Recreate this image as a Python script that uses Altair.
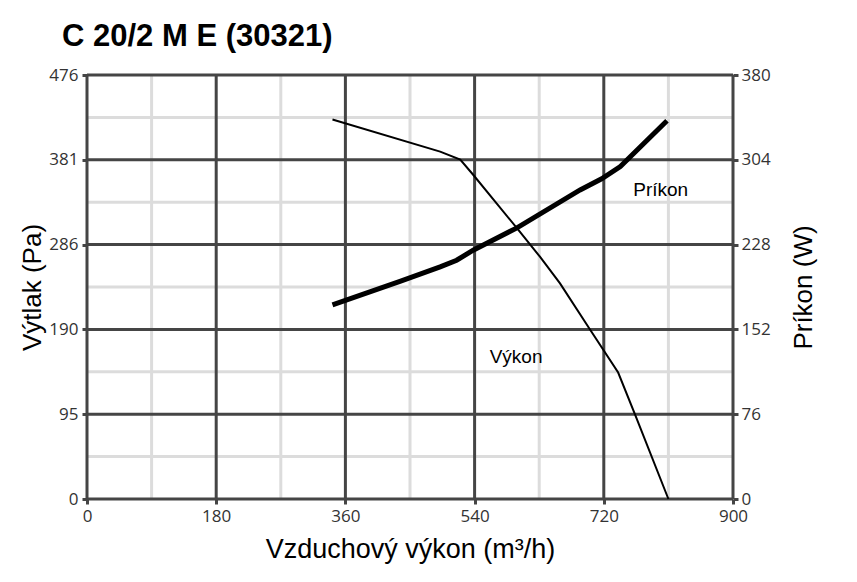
import altair as alt
import pandas as pd

# ---- data ----
vykon_x = [342, 492, 520, 538, 599, 631, 659, 701, 740, 764, 810]
vykon_pa = [426, 390, 381, 364, 304, 272, 242, 190, 142, 94, 0]

prikon_x = [342, 436, 492, 515, 538, 599, 687, 717, 743, 808]
prikon_w = [174, 195, 208, 214, 223, 243, 277, 287, 298, 339]

x_major = [0, 180, 360, 540, 720, 900]
x_minor = [90, 270, 450, 630, 810]
y_major = [0, 95.2, 190.4, 285.6, 380.8, 476]
y_minor = [47.6, 142.8, 238, 333.2, 428.4]
w_ticks = [0, 76, 152, 228, 304, 380]

label_text = ["Výkon", "Príkon"]
label_x = [561, 761]
label_pa = [159, 347]

MAJOR = "#454545"
MINOR = "#dcdcdc"
LBL_FONT = "Open Sans"
FONT = "Liberation Sans"

xs = alt.Scale(domain=[0, 900], nice=False, zero=False)
ys = alt.Scale(domain=[0, 476], nice=False, zero=False)
ws = alt.Scale(domain=[0, 380], nice=False, zero=False)

df_vx = pd.DataFrame({"v": x_minor})
df_hx = pd.DataFrame({"v": y_minor})
df_vM = pd.DataFrame({"v": x_major})
df_hM = pd.DataFrame({"v": y_major})
df_vyk = pd.DataFrame({"x": vykon_x, "y": vykon_pa})
df_pri = pd.DataFrame({"x": prikon_x, "w": prikon_w})
df_lab = pd.DataFrame({"t": label_text, "x": label_x, "y": label_pa})

common_axis = dict(domain=False, grid=False, ticks=True, tickSize=5,
                   tickWidth=3, tickColor=MAJOR, labelFont=LBL_FONT,
                   labelFontSize=17, labelColor="#333333", labelFlush=False,
                   titleFont=FONT, titleFontWeight="normal",
                   titleColor="black")

x_axis = alt.Axis(values=x_major, format="d", orient="bottom", labelPadding=4,
                  title="Vzduchový výkon (m³/h)", titleFontSize=27,
                  titleX=323, titleY=58, titleAlign="center",
                  titleBaseline="alphabetic", **common_axis)
y_axis = alt.Axis(values=y_major, format=".0f", orient="left", labelPadding=4,
                  title="Výtlak (Pa)", titleFontSize=26,
                  titleAngle=270, titleX=-55, titleY=212, titleAlign="center",
                  titleBaseline="middle", **common_axis)
w_axis = alt.Axis(values=w_ticks, format="d", orient="right", labelPadding=3,
                  title="Príkon (W)", titleFontSize=26,
                  titleAngle=270, titleX=70, titleY=212, titleAlign="center",
                  titleBaseline="middle", **common_axis)


def X(field):
    return alt.X(field, scale=xs, axis=x_axis)


minor_v = alt.Chart(df_vx).mark_rule(color=MINOR, strokeWidth=3).encode(
    x=X("v:Q"))
minor_h = alt.Chart(df_hx).mark_rule(color=MINOR, strokeWidth=3).encode(
    y=alt.Y("v:Q", scale=ys, axis=None))

major_v = alt.Chart(df_vM).mark_rule(color=MAJOR, strokeWidth=3).encode(
    x=X("v:Q"))
major_h = alt.Chart(df_hM).mark_rule(color=MAJOR, strokeWidth=3).encode(
    y=alt.Y("v:Q", scale=ys, axis=y_axis))

vyk = alt.Chart(df_vyk).mark_line(color="black", strokeWidth=2).encode(
    x=X("x:Q"),
    y=alt.Y("y:Q", scale=ys, axis=None),
    order="x:Q")

labels = alt.Chart(df_lab).mark_text(
    font=FONT, fontSize=19, color="black", align="left", baseline="middle"
).encode(
    x=X("x:Q"),
    y=alt.Y("y:Q", scale=ys, axis=None),
    text="t:N")

pri = alt.Chart(df_pri).mark_line(color="black", strokeWidth=5).encode(
    x=X("x:Q"),
    y=alt.Y("w:Q", scale=ws, axis=w_axis),
    order="x:Q")

chart = alt.layer(minor_v, minor_h, major_v, major_h, vyk, labels, pri).resolve_scale(
    y="independent").properties(
    width=646, height=424,
    autosize=alt.AutoSizeParams(type="none"),
    padding={"left": 79, "top": 67, "right": 116, "bottom": 75},
    title=alt.TitleParams(
        text="C 20/2 M E (30321)", anchor="start", frame="group",
        font=FONT, fontSize=31, fontWeight="bold", color="black",
        dx=-25, dy=39, offset=28, baseline="alphabetic")
).configure_view(stroke=None)

chart.save("out.html", embed_options={"renderer": "svg", "actions": False})
